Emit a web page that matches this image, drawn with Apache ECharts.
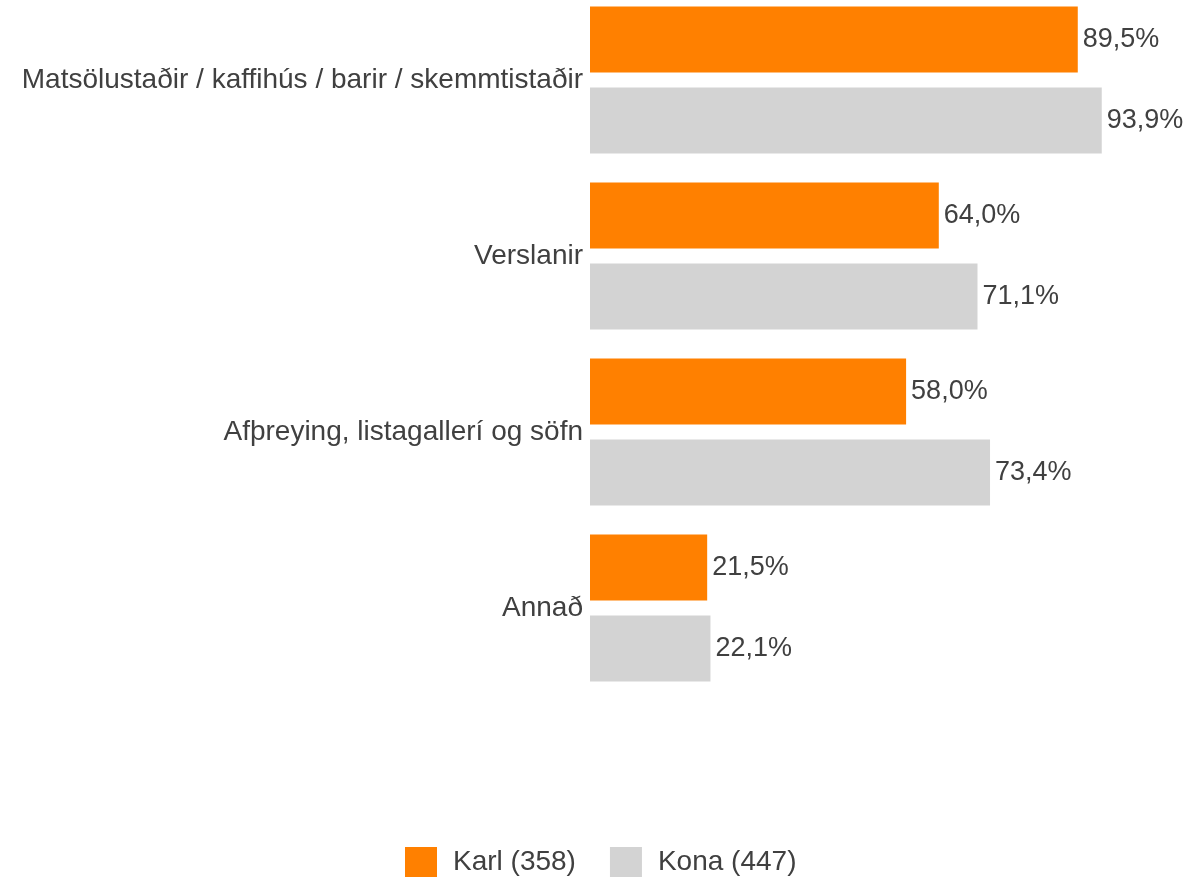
<!DOCTYPE html>
<html>
<head>
<meta charset="utf-8">
<script src="https://cdn.jsdelivr.net/npm/echarts@6/dist/echarts.min.js"></script>
<style>
  html, body { margin: 0; padding: 0; background: #fff; }
  #main { width: 1189px; height: 877px; }
</style>
</head>
<body>
<div id="main"></div>
<script>
const categories = ['Matsölustaðir / kaffihús / barir / skemmtistaðir', 'Verslanir', 'Afþreying, listagallerí og söfn', 'Annað']
const karl = [89.5, 64.0, 58.0, 21.5]
const kona = [93.9, 71.1, 73.4, 22.1]
const seriesNames = ['Karl (358)', 'Kona (447)']

const textColor = '#404040'
const font = 'Liberation Sans, Arial, sans-serif'

const chart = echarts.init(document.getElementById('main'))

const labelOption = {
  show: true,
  position: 'right',
  distance: 5,
  color: textColor,
  fontFamily: font,
  fontSize: 27,
  formatter: p => p.value.toFixed(1).replace('.', ',') + '%'
}

const option = {
  animation: false,
  grid: {
    left: 590,
    right: 54,
    top: -8,
    bottom: 181,
    outerBoundsMode: 'none'
  },
  legend: {
    bottom: 0,
    left: 405,
    padding: 0,
    itemWidth: 32,
    itemHeight: 30,
    itemGap: 34,
    icon: 'rect',
    textStyle: { color: textColor, fontFamily: font, fontSize: 28, padding: [0, 0, 0, 11] },
    data: seriesNames
  },
  xAxis: {
    type: 'value',
    min: 0,
    max: 100,
    show: false
  },
  yAxis: {
    type: 'category',
    inverse: true,
    data: categories,
    axisLine: { show: false },
    axisTick: { show: false },
    axisLabel: { color: textColor, fontFamily: font, fontSize: 28, margin: 7 }
  },
  series: [
    {
      name: seriesNames[0],
      type: 'bar',
      data: karl,
      barGap: '23%',
      barCategoryGap: '16.5%',
      itemStyle: { color: '#FF8000' },
      label: labelOption
    },
    {
      name: seriesNames[1],
      type: 'bar',
      data: kona,
      itemStyle: { color: '#D3D3D3' },
      label: labelOption
    }
  ]
}

chart.setOption(option)
</script>
</body>
</html>
